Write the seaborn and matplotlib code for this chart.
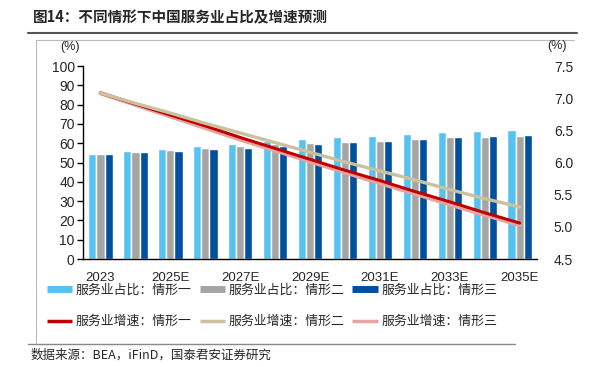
import numpy as np
import pandas as pd
import matplotlib
matplotlib.use("Agg")
import matplotlib.pyplot as plt
from matplotlib.lines import Line2D
import seaborn as sns

years = ["2023", "2024E", "2025E", "2026E", "2027E", "2028E", "2029E",
         "2030E", "2031E", "2032E", "2033E", "2034E", "2035E"]
share_1 = [54.7, 55.9, 57.2, 58.4, 59.6, 61.2, 62.1, 63.0, 63.8, 64.8, 65.7, 66.2, 66.9]
share_2 = [54.7, 55.6, 56.4, 57.4, 58.5, 59.7, 60.2, 60.5, 61.4, 62.1, 63.0, 63.3, 63.6]
share_3 = [54.7, 55.6, 56.0, 56.9, 57.6, 58.5, 59.5, 60.5, 61.4, 62.1, 63.0, 63.6, 64.5]
growth_1 = [7.08, 6.91, 6.74, 6.57, 6.39, 6.22, 6.05, 5.88, 5.72, 5.55, 5.39, 5.22, 5.06]
growth_2 = [7.08, 6.92, 6.77, 6.61, 6.46, 6.31, 6.16, 6.01, 5.87, 5.73, 5.58, 5.44, 5.31]
growth_3 = [7.08, 6.90, 6.72, 6.54, 6.36, 6.19, 6.02, 5.85, 5.68, 5.52, 5.35, 5.19, 5.03]

bar_names = ["服务业占比：情形一", "服务业占比：情形二", "服务业占比：情形三"]
line_names = ["服务业增速：情形一", "服务业增速：情形二", "服务业增速：情形三"]
bar_colors = ["#55C3F1", "#A5A5A5", "#00509D"]
line_colors = ["#C00000", "#CBC19E", "#E8A2A2"]

sns.set_theme(style="white")
plt.rcParams["font.family"] = ["Liberation Sans", "Noto Sans CJK SC", "DejaVu Sans"]
cjk = ["Noto Sans CJK SC", "DejaVu Sans"]

bars = pd.DataFrame({
    "year": years * 3,
    "value": share_1 + share_2 + share_3,
    "series": sum([[n] * len(years) for n in bar_names], []),
})
x = np.arange(len(years))

fig = plt.figure(figsize=(5.89, 3.67), dpi=100)
ax = fig.add_axes([0.141, 0.294, 0.771, 0.526])
sns.barplot(data=bars, x="year", y="value", hue="series", palette=bar_colors,
            width=0.7, gap=0, saturation=1, legend=False, ax=ax)
ax.set_ylim(0, 100)
ax.set_yticks(range(0, 101, 10))
ax.set_xlim(-0.5, len(years) - 0.5)
ax.set_xlabel("")
ax.set_ylabel("")
ax.set_xticks(x[::2])
ax.set_xticklabels(years[::2], fontsize=9.5)
ax.set_xticks(np.arange(-0.5, len(years), 1), minor=True)
ax.tick_params(axis="x", which="major", length=0, pad=9)
ax.tick_params(axis="x", which="minor", length=5, width=1, direction="out", color="black")
ax.tick_params(axis="y", length=4, width=1, direction="out", color="black", labelsize=10, pad=2)
for s in ["top", "right"]:
    ax.spines[s].set_visible(False)
for s in ["left", "bottom"]:
    ax.spines[s].set_color("black")
    ax.spines[s].set_linewidth(1)

ax2 = ax.twinx()
for vals, c, lw in [(growth_3, line_colors[2], 3.2), (growth_1, line_colors[0], 2.2),
                    (growth_2, line_colors[1], 2.4)]:
    sns.lineplot(x=x, y=vals, color=c, linewidth=lw, ax=ax2)
ax2.set_ylim(4.5, 7.5)
ax2.set_yticks(np.arange(4.5, 7.51, 0.5))
ax2.set_yticklabels([f"{v:.1f}" for v in np.arange(4.5, 7.51, 0.5)], fontsize=10)
ax2.tick_params(axis="y", length=0, pad=12)
for s in ax2.spines.values():
    s.set_visible(False)
ax2.set_xlim(-0.5, len(years) - 0.5)

fig.text(0.119, 0.872, "(%)", fontsize=9, ha="center", va="center")
fig.text(0.945, 0.874, "(%)", fontsize=9, ha="center", va="center")

# legend fills column by column, so interleave bars and lines
handles, labels = [], []
for bc, bn, lc, ln in zip(bar_colors, bar_names, line_colors, line_names):
    handles += [Line2D([], [], color=bc, lw=5, solid_capstyle="butt"),
                Line2D([], [], color=lc, lw=2.5, solid_capstyle="butt")]
    labels += [bn, ln]
fig.legend(handles, labels, loc="center", bbox_to_anchor=(0.462, 0.167), ncol=3,
           frameon=False, prop={"family": cjk, "size": 9.3}, handlelength=1.95,
           handletextpad=0.3, columnspacing=0.6, labelspacing=1.45)

fig.text(0.056, 0.953, "图14：不同情形下中国服务业占比及增速预测", fontsize=10.5,
         fontweight="bold", family=cjk, ha="left", va="center")
fig.text(0.051, 0.032, "数据来源：BEA，iFinD，国泰君安证券研究", fontsize=9,
         family=cjk, ha="left", va="center")

# frame lines
fig.add_artist(Line2D([0.048, 0.98], [0.909, 0.909], color="#555555", lw=1.5))
fig.add_artist(Line2D([0.061, 0.975], [0.89, 0.89], color="#BBBBBB", lw=0.8))
fig.add_artist(Line2D([0.061, 0.061], [0.065, 0.89], color="#BBBBBB", lw=0.8))
fig.add_artist(Line2D([0.048, 0.875], [0.063, 0.063], color="#888888", lw=1.0))

fig.savefig("out.png", dpi=100)
